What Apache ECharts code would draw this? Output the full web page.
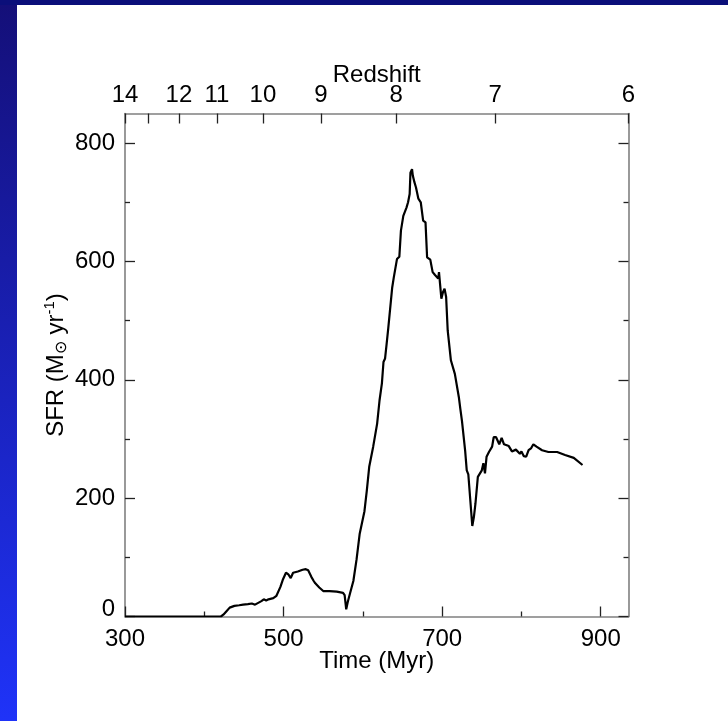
<!DOCTYPE html>
<html>
<head>
<meta charset="utf-8">
<script src="https://cdn.jsdelivr.net/npm/echarts@6/dist/echarts.min.js"></script>
<style>
html,body{margin:0;padding:0;background:#fff;}
#chart{width:728px;height:721px;}
</style>
</head>
<body>
<div id="chart"></div>
<script>
// ---- data ----
const timeMyr = [300,350,400,421,424,428,432,438,444,449,455,460,464,468,472,475,478,481,487,491,496,499,503,506,509,512,518,524,528,531,533,535,538,540,542,545,550,558,567,575,577,579,581,584,588,592,596,602,605,608,613,618,621,624,626,628,630,632,637,639,643,646,648,651,655,657,658,659,660,662,663,665,667,670,673,676,679,681,685,688,691,693,695,696,699,701,703,705,707,711,716,721,723,725,729,731,733,738,740,742,745,750,752,754,756,759,761,763,765,768,772,775,778,784,788,793,798,800,803,806,809,812,815,819,826,834,845,855,866,877];
const sfr = [0,0,0,0,3,9,15,18,19,20,21,22,20,23,26,29,27,29,31,35,50,62,74,71,65,74,76,79,80,78,76,67,60,56,58,49,43,43,42,40,36,12,25,40,60,96,140,178,213,253,287,326,365,394,430,436,461,487,556,573,604,608,652,677,691,700,697,714,750,756,745,734,725,706,700,669,666,607,603,582,577,580,571,582,537,548,554,540,483,433,410,371,350,330,280,247,240,153,168,191,236,247,259,242,270,278,277,287,303,303,291,302,291,288,279,282,275,279,271,270,281,284,291,287,281,278,278,273,268,256];

const timeMajorTicks = [300,500,700,900];
const timeMinorTicks = [400,600,800];
const sfrMajorTicks = [0,200,400,600,800];
const sfrMinorTicks = [100,300,500,700];
const redshiftLabels = ['14','13','12','11','10','9','8','7','6'];
const redshiftTimes = [300,329.4,368,416,474,547,642,767,935];
const redshiftShown = ['14','12','11','10','9','8','7','6'];

const X_MIN = 300, X_MAX = 935, Y_MIN = 0, Y_MAX = 850;
const FONT = "'Liberation Sans', Arial, Helvetica, sans-serif";
const FRAME = '#808080';
const TICK = '#222';
const FS = 24;

const chart = echarts.init(document.getElementById('chart'));

const redshiftLabelTimes = redshiftTimes.filter((t, i) => redshiftShown.indexOf(redshiftLabels[i]) >= 0);

function xAxisBase(extra) {
  return Object.assign({
    type: 'value', min: X_MIN, max: X_MAX, gridIndex: 0,
    splitLine: {show: false},
    axisLine: {show: false},
    axisLabel: {show: false},
    axisTick: {show: false}
  }, extra);
}
function yAxisBase(extra) {
  return Object.assign({
    type: 'value', min: Y_MIN, max: Y_MAX, gridIndex: 0,
    splitLine: {show: false},
    axisLine: {show: false},
    axisLabel: {show: false},
    axisTick: {show: false}
  }, extra);
}

const option = {
  animation: false,
  backgroundColor: '#ffffff',
  graphic: [
    {type: 'rect', z: -10, shape: {x: 0, y: 0, width: 17, height: 721},
     style: {fill: new echarts.graphic.LinearGradient(0, 0, 0, 1, [
       {offset: 0, color: '#140f78'}, {offset: 1, color: '#1f33f8'}])}},
    {type: 'rect', z: -9, shape: {x: 0, y: 0, width: 728, height: 5},
     style: {fill: '#0b0f7a'}}
  ],
  grid: {left: 125, top: 113.5, width: 503.5, height: 503, containLabel: false},
  xAxis: [
    xAxisBase({
      position: 'bottom',
      axisLine: {show: true, onZero: false, lineStyle: {color: FRAME, width: 1.6}},
      axisTick: {show: true, inside: true, length: 10, customValues: timeMajorTicks, lineStyle: {color: TICK, width: 1.3}},
      axisLabel: {show: true, customValues: timeMajorTicks, margin: 11, color: '#000', fontSize: FS, fontFamily: FONT},
      name: 'Time (Myr)', nameLocation: 'middle', nameGap: 33, nameMoveOverlap: false,
      nameTextStyle: {color: '#000', fontSize: FS, fontFamily: FONT}
    }),
    xAxisBase({
      position: 'bottom',
      axisTick: {show: true, inside: true, length: 5, customValues: timeMinorTicks, lineStyle: {color: TICK, width: 1.3}}
    }),
    xAxisBase({
      position: 'top',
      axisLine: {show: true, onZero: false, lineStyle: {color: FRAME, width: 1.6}},
      axisTick: {show: true, inside: true, length: 10, customValues: redshiftTimes, lineStyle: {color: TICK, width: 1.3}},
      axisLabel: {show: true, customValues: redshiftLabelTimes, margin: 6, color: '#000', fontSize: FS, fontFamily: FONT,
        formatter: function (v) {
          let best = 0, bd = Infinity;
          redshiftTimes.forEach((t, i) => { const d = Math.abs(t - v); if (d < bd) { bd = d; best = i; } });
          return redshiftLabels[best];
        }},
      name: 'Redshift', nameLocation: 'middle', nameGap: 26, nameMoveOverlap: false,
      nameTextStyle: {color: '#000', fontSize: FS, fontFamily: FONT}
    })
  ],
  yAxis: [
    yAxisBase({
      position: 'left',
      axisLine: {show: true, onZero: false, lineStyle: {color: FRAME, width: 1.6}},
      axisTick: {show: true, inside: true, length: 10, customValues: sfrMajorTicks, lineStyle: {color: TICK, width: 1.3}},
      axisLabel: {show: true, customValues: sfrMajorTicks, margin: 10, color: '#000', fontSize: FS, fontFamily: FONT,
        formatter: function (v) { return v === 0 ? '{z|0}' : String(v); },
        rich: {z: {fontSize: FS, fontFamily: FONT, color: '#000', padding: [0, 0, 14, 0]}}},
      name: 'SFR (M{sub|⊙} yr{sup|-1})', nameLocation: 'middle', nameGap: 55, nameRotate: 90, nameMoveOverlap: false,
      nameTextStyle: {color: '#000', fontSize: FS, fontFamily: FONT, lineHeight: 28,
        rich: {
          sub: {fontSize: 16, fontFamily: FONT, color: '#000', verticalAlign: 'bottom', lineHeight: 16},
          sup: {fontSize: 15, fontFamily: FONT, color: '#000', verticalAlign: 'top', lineHeight: 15}
        }}
    }),
    yAxisBase({
      position: 'left',
      axisTick: {show: true, inside: true, length: 5, customValues: sfrMinorTicks, lineStyle: {color: TICK, width: 1.3}}
    }),
    yAxisBase({
      position: 'right',
      axisLine: {show: true, onZero: false, lineStyle: {color: FRAME, width: 1.6}},
      axisTick: {show: true, inside: true, length: 10, customValues: sfrMajorTicks, lineStyle: {color: TICK, width: 1.3}}
    }),
    yAxisBase({
      position: 'right',
      axisTick: {show: true, inside: true, length: 5, customValues: sfrMinorTicks, lineStyle: {color: TICK, width: 1.3}}
    })
  ],
  series: [{
    type: 'line',
    xAxisIndex: 0, yAxisIndex: 0,
    data: timeMyr.map((t, i) => [t, sfr[i]]),
    showSymbol: false,
    symbol: 'none',
    lineStyle: {color: '#000', width: 2.2},
    clip: true,
    z: 5
  }]
};
chart.setOption(option);
</script>
</body>
</html>
